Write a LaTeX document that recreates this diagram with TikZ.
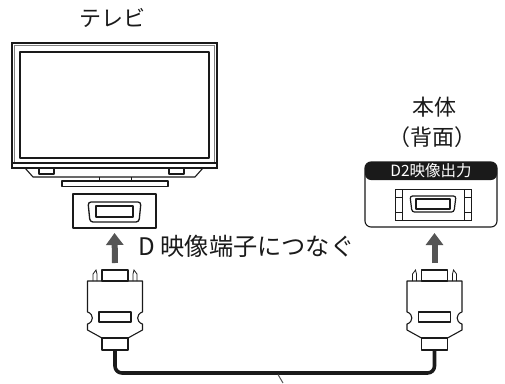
\documentclass[tikz,border=0pt]{standalone}
\usepackage{fontspec}
\setmainfont{Noto Sans CJK JP}
\usetikzlibrary{arrows.meta}
\definecolor{ink}{HTML}{1A1A1A}
\definecolor{arrowgray}{HTML}{555555}
\tikzset{
  outline/.style={draw=ink, line width=1.1pt, line join=round},
  thinline/.style={draw=ink, line width=0.8pt},
  label/.style={text=ink, font=\fontsize{22}{24}\selectfont, inner sep=0pt},
  pushup/.style={draw=arrowgray, line width=6pt, -{Triangle[width=17pt,length=12pt]}},
  cable/.style={draw=ink, line width=3.6pt, rounded corners=7pt},
  relief/.style={outline, fill=white, minimum width=26pt, minimum height=12pt, inner sep=0pt},
  % D-terminal plug: origin at the top centre of the latch block
  pics/plug/.style={code={
    \draw[outline, fill=white] (-27.5,11) -- (-27.5,42)
      .. controls (-21,44) and (-21,52) .. (-27.5,54) -- (-27.5,60) -- (-13,68)
      -- (13,68) -- (27.5,60) -- (27.5,54)
      .. controls (21,52) and (21,44) .. (27.5,42) -- (27.5,11) -- cycle;
    \draw[outline, fill=white] (-13,0) rectangle (13,11);
    \draw[outline] (-16,42) rectangle (16,52);
    \draw[thinline] (-22,11) -- (-22,4) -- (-19,0) -- (-18,4) -- (-18,11);
    \draw[thinline] (22,11) -- (22,4) -- (19,0) -- (18,4) -- (18,11);
  }}
}
\begin{document}
\begin{tikzpicture}[x=1pt,y=-1pt]
\useasboundingbox (0,0) rectangle (505,383);
\fill[white] (0,0) rectangle (505,383);

% television
\node[label] (tvlabel) at (112.5,18) {テレビ};
\draw[draw=ink, line width=1.4pt] (12,43) rectangle (217,168);
\draw[draw=gray, line width=0.8pt] (14.5,45.5) rectangle (214.5,163);
\draw[outline] (20,52) rectangle (209,158);
\draw[outline] (12,163) -- (217,163);
\draw[outline] (25,168) -- (33,177) -- (195,177) -- (203,168);
\draw[outline] (39,168) rectangle (54,174);
\draw[outline] (169,168) rectangle (184,174);
\draw[thinline] (99,177) -- (99,181);
\draw[thinline] (131,177) -- (131,181);
\draw[outline] (62,181) rectangle (168,186.5);

% D terminal on the television
\node[outline, minimum width=83pt, minimum height=34pt, inner sep=0pt] (tvport) at (114.5,211) {};
\draw[draw=ink, line width=1.3pt, rounded corners=3pt] (88,202) -- (141,202) -- (139,222) -- (90,222) -- cycle;
\draw[outline] (96,206) rectangle (133,217);

% main unit, rear panel
\node[label] (unitlabel) at (434,107) {本体};
\node[label] (rearlabel) at (432,137) {（背面）};
\draw[outline, rounded corners=6pt] (365,162) rectangle (497,227);
\fill[ink, rounded corners=6pt] (365,180) -- (365,162) -- (497,162) -- (497,180) -- cycle;
\node[text=white, font=\fontsize{15.5}{16}\selectfont, inner sep=0pt] (outlabel) at (431,171) {D2映像出力};
\node[thinline, minimum width=76pt, minimum height=31pt, inner sep=0pt] (unitport) at (433,204.5) {};
\draw[thinline] (402,189) -- (402,220) (464,189) -- (464,220);
\draw[thinline] (395,197) -- (402,197) (395,212) -- (402,212)
                (464,197) -- (471,197) (464,212) -- (471,212);
\draw[draw=ink, line width=1.2pt, rounded corners=2.5pt] (410,196) -- (456,196) -- (454,212) -- (412,212) -- cycle;
\draw[outline] (416,199) rectangle (450,209);

% plugs and cable
\pic at (115,270) {plug};
\pic at (434.5,270) {plug};
\node[relief] (plugL) at (115,344) {};
\node[relief] (plugR) at (434.5,344) {};
\draw[cable] (plugL.south) -- (115,373) -| (plugR.south);
\coordinate (leaderend) at (283,383);
\draw[draw=arrowgray, line width=1pt] (278,374.5) -- (leaderend);

% insertion arrows
\draw[pushup] (115,263) -- (tvport.south |- 0,233);
\draw[pushup] (434.5,263) -- (434.5,233);
\node[label, anchor=west, font=\fontsize{24.2}{26}\selectfont] (connect) at (138.5,246) {D 映像端子につなぐ};
\end{tikzpicture}
\end{document}
